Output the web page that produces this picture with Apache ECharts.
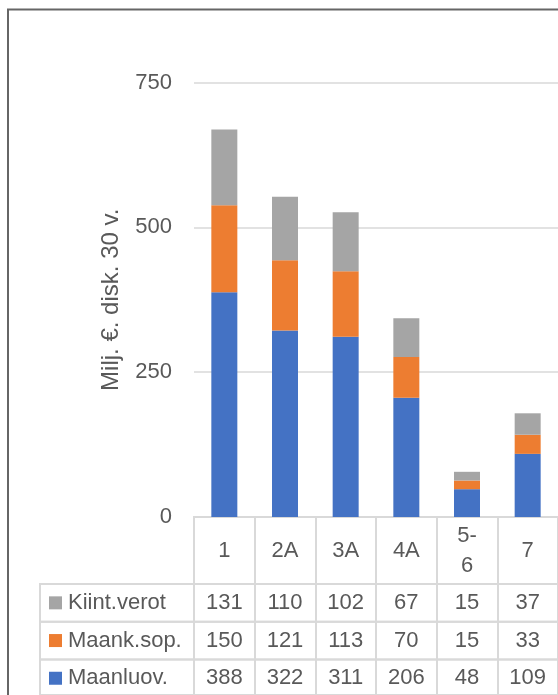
<!DOCTYPE html>
<html>
<head>
<meta charset="utf-8">
<script src="https://cdn.jsdelivr.net/npm/echarts@6/dist/echarts.min.js"></script>
<style>
html,body{margin:0;padding:0;background:#fff;}
#c{width:558px;height:695px;}
</style>
</head>
<body>
<div id="c"></div>
<script>
const categories = ['1', '2A', '3A', '4A', '5-6', '7'];
const maanluov = [388, 322, 311, 206, 48, 109];
const maanksop = [150, 121, 113, 70, 15, 33];
const kiintverot = [131, 110, 102, 67, 15, 37];
const seriesNames = ['Maanluov.', 'Maank.sop.', 'Kiint.verot'];
const yTicks = [0, 250, 500, 750];
const yAxisTitle = 'Milj. €. disk. 30 v.';

// table rows (top to bottom)
const tableRows = [
  { name: 'Kiint.verot', values: kiintverot },
  { name: 'Maank.sop.', values: maanksop },
  { name: 'Maanluov.', values: maanluov }
];

const FONT = 'Liberation Sans, Arial, sans-serif';
const TXT = '#595959';
const LINE = '#d9d9d9';
const COLORS = ['#4472C4', '#ED7D31', '#A5A5A5'];

const plotLeft = 194, plotTop = 82.5, plotW = 369, plotH = 434.5;
const catRowH = 67, rowH = 37.7, legendLeft = 40;
const tableTop = plotTop + plotH + catRowH;

const grid = [
  { left: plotLeft, top: plotTop, width: plotW, height: plotH },
  { left: plotLeft, top: plotTop + plotH, width: plotW, height: catRowH, show: true, borderColor: LINE, borderWidth: 2, backgroundColor: 'transparent' }
];
const xAxis = [
  {
    type: 'category', data: categories, gridIndex: 0,
    axisLine: { show: true, lineStyle: { color: LINE, width: 2 } },
    axisTick: { show: false },
    axisLabel: {
      interval: 0, color: TXT, fontFamily: FONT, fontSize: 22, margin: 34,
      verticalAlign: 'middle', lineHeight: 30,
      formatter: v => v.replace('-', '-\n')
    }
  },
  {
    type: 'category', data: categories, gridIndex: 1,
    axisLine: { show: false }, axisTick: { show: false }, axisLabel: { show: false },
    splitLine: { show: true, interval: 0, lineStyle: { color: LINE, width: 2 } }
  }
];
const yAxis = [
  {
    type: 'value', gridIndex: 0, min: yTicks[0], max: yTicks[yTicks.length - 1], interval: 250,
    name: yAxisTitle, nameLocation: 'middle', nameGap: 71, nameRotate: 90,
    nameTextStyle: { color: TXT, fontFamily: FONT, fontSize: 24 },
    axisLine: { show: false }, axisTick: { show: false },
    axisLabel: { color: TXT, fontFamily: FONT, fontSize: 22, margin: 22 },
    splitLine: { lineStyle: { color: LINE, width: 1.5 } }
  },
  { type: 'value', gridIndex: 1, show: false, min: 0, max: 1 }
];
const legends = [];

tableRows.forEach((row, i) => {
  const top = tableTop + i * rowH;
  // values row
  grid.push({ left: plotLeft, top: top, width: plotW, height: rowH, show: true, borderColor: LINE, borderWidth: 2, backgroundColor: 'transparent' });
  let gi = grid.length - 1;
  xAxis.push({
    type: 'category', data: categories, gridIndex: gi, position: 'top',
    axisLine: { show: false }, axisTick: { show: false },
    axisLabel: {
      inside: true, interval: 0, margin: rowH / 2, verticalAlign: 'middle',
      color: TXT, fontFamily: FONT, fontSize: 22,
      formatter: (v, idx) => String(row.values[idx])
    },
    splitLine: { show: true, interval: 0, lineStyle: { color: LINE, width: 2 } }
  });
  yAxis.push({ type: 'value', gridIndex: gi, show: false, min: 0, max: 1 });
  // legend column cell
  grid.push({ left: legendLeft, top: top, width: plotLeft - legendLeft, height: rowH, show: true, borderColor: LINE, borderWidth: 2, backgroundColor: 'transparent' });
  gi = grid.length - 1;
  xAxis.push({ type: 'category', data: [''], gridIndex: gi, show: false });
  yAxis.push({ type: 'value', gridIndex: gi, show: false, min: 0, max: 1 });
  legends.push({
    data: [row.name], left: 49, top: top + rowH / 2 - 11, padding: 0,
    icon: 'rect', itemWidth: 13, itemHeight: 13, itemGap: 6, selectedMode: false,
    textStyle: { color: TXT, fontFamily: FONT, fontSize: 22, lineHeight: 22, padding: [0, 0, 0, 1] }
  });
});

const seriesData = [maanluov, maanksop, kiintverot];
const series = seriesNames.map((n, i) => ({
  name: n, type: 'bar', stack: 'total', xAxisIndex: 0, yAxisIndex: 0,
  data: seriesData[i], barWidth: 26, itemStyle: { color: COLORS[i] }
}));

const chart = echarts.init(document.getElementById('c'), null, { renderer: 'canvas' });
chart.setOption({
  animation: false,
  backgroundColor: '#ffffff',
  color: COLORS,
  grid: grid, xAxis: xAxis, yAxis: yAxis, legend: legends, series: series,
  graphic: [{
    type: 'rect', shape: { x: 8, y: 9.5, width: 700, height: 800 },
    style: { fill: 'none', stroke: '#666666', lineWidth: 2 }, silent: true
  }]
});
</script>
</body>
</html>
